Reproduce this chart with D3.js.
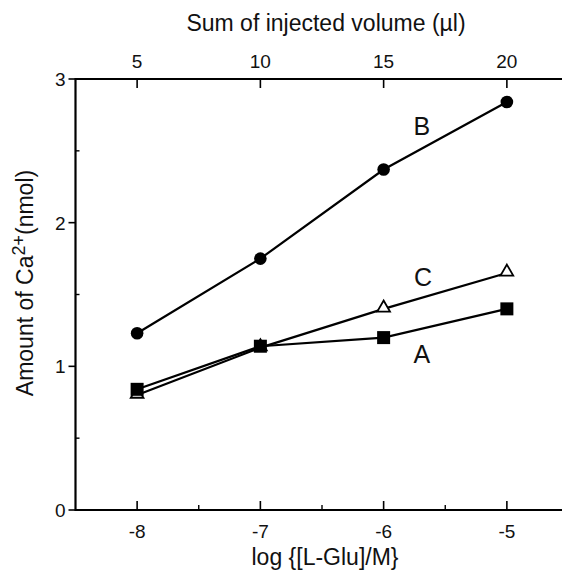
<html>
<head>
<script src="https://cdn.jsdelivr.net/npm/d3@7"></script>
<style>
  body { margin: 0; background: #fff; }
  text { font-family: "Liberation Sans", Arial, sans-serif; fill: #111; }
</style>
</head>
<body>
<div class="chart"></div>
<script>
// data
var logGlu = [-8, -7, -6, -5];
var seriesA = [0.84, 1.14, 1.20, 1.40];
var seriesB = [1.23, 1.75, 2.37, 2.84];
var seriesC = [0.80, 1.13, 1.40, 1.65];
var volTicks = [5, 10, 15, 20];
var xTicks = [-8, -7, -6, -5];
var yTicks = [0, 1, 2, 3];

var W = 562, H = 571;
var x = d3.scaleLinear().domain([-8.5, -4.5]).range([75.5, 568.5]);
var xTop = d3.scaleLinear().domain([2.5, 22.5]).range([75.5, 568.5]);
var y = d3.scaleLinear().domain([0, 3]).range([510, 79]);

var svg = d3.select(".chart").append("svg")
  .attr("width", W).attr("height", H);

// bottom axis
var gb = svg.append("g").attr("transform", "translate(0," + y(0) + ")");
gb.append("line").attr("x1", x(-8.5)).attr("x2", W).attr("stroke", "#000").attr("stroke-width", 2.2);
gb.selectAll(".maj").data(xTicks).enter().append("line")
  .attr("x1", d => x(d)).attr("x2", d => x(d)).attr("y1", 0).attr("y2", -9)
  .attr("stroke", "#000").attr("stroke-width", 1.6);
gb.selectAll(".min").data([-7.5, -6.5, -5.5]).enter().append("line")
  .attr("x1", d => x(d)).attr("x2", d => x(d)).attr("y1", 0).attr("y2", -5)
  .attr("stroke", "#000").attr("stroke-width", 1.4);
gb.selectAll(".lbl").data(xTicks).enter().append("text")
  .attr("x", d => x(d)).attr("y", 28).attr("text-anchor", "middle")
  .attr("font-size", 19).text(d => d);
svg.append("text").attr("x", 325).attr("y", 565).attr("text-anchor", "middle")
  .attr("font-size", 23).text("log {[L-Glu]/M}");

// top axis
var gt = svg.append("g").attr("transform", "translate(0," + y(3) + ")");
gt.append("line").attr("x1", x(-8.5)).attr("x2", W).attr("stroke", "#000").attr("stroke-width", 2.2);
gt.selectAll(".maj").data(volTicks).enter().append("line")
  .attr("x1", d => xTop(d)).attr("x2", d => xTop(d)).attr("y1", 0).attr("y2", 9)
  .attr("stroke", "#000").attr("stroke-width", 1.6);
gt.selectAll(".lbl").data(volTicks).enter().append("text")
  .attr("x", d => xTop(d)).attr("y", -11).attr("text-anchor", "middle")
  .attr("font-size", 19).text(d => d);
svg.append("text").attr("x", 326).attr("y", 31).attr("text-anchor", "middle")
  .attr("font-size", 23).text("Sum of injected volume (\u00b5l)");

// left axis
var gl = svg.append("g").attr("transform", "translate(" + x(-8.5) + ",0)");
gl.append("line").attr("y1", y(0) + 1).attr("y2", y(3) - 1).attr("stroke", "#000").attr("stroke-width", 2.2);
gl.selectAll(".maj").data(yTicks).enter().append("line")
  .attr("y1", d => y(d)).attr("y2", d => y(d)).attr("x1", 0).attr("x2", -7)
  .attr("stroke", "#000").attr("stroke-width", 1.6);
gl.selectAll(".min").data([0.5, 1.5, 2.5]).enter().append("line")
  .attr("y1", d => y(d)).attr("y2", d => y(d)).attr("x1", 0).attr("x2", 4)
  .attr("stroke", "#000").attr("stroke-width", 1.4);
gl.selectAll(".lbl").data(yTicks).enter().append("text")
  .attr("x", -10).attr("y", d => y(d) + 7).attr("text-anchor", "end")
  .attr("font-size", 19).text(d => d);

var yt = svg.append("text").attr("transform", "translate(33,283) rotate(-90)")
  .attr("text-anchor", "middle").attr("font-size", 23);
yt.append("tspan").text("Amount of Ca");
yt.append("tspan").attr("dy", -8).attr("font-size", 18).text("2+");
yt.append("tspan").attr("dy", 8).text("(nmol)");

// lines
var line = d3.line().x((d, i) => x(logGlu[i])).y(d => y(d));
[seriesA, seriesC, seriesB].forEach(function (s) {
  svg.append("path").datum(s).attr("d", line)
    .attr("fill", "none").attr("stroke", "#000").attr("stroke-width", 2.2);
});

// markers
svg.selectAll(".tri").data(seriesC).enter().append("path")
  .attr("d", d3.symbol().type(d3.symbolTriangle).size(70))
  .attr("transform", (d, i) => "translate(" + x(logGlu[i]) + "," + (y(d) - 1) + ")")
  .attr("fill", "#fff").attr("stroke", "#000").attr("stroke-width", 1.8);
svg.selectAll(".sq").data(seriesA).enter().append("rect")
  .attr("x", (d, i) => x(logGlu[i]) - 6.5).attr("y", d => y(d) - 6.5)
  .attr("width", 13).attr("height", 13).attr("fill", "#000");
svg.selectAll(".dot").data(seriesB).enter().append("circle")
  .attr("cx", (d, i) => x(logGlu[i])).attr("cy", d => y(d)).attr("r", 6.3).attr("fill", "#000");

// series labels
var labels = [["B", -5.69, 2.61], ["C", -5.68, 1.56], ["A", -5.69, 1.02]];
svg.selectAll(".slbl").data(labels).enter().append("text")
  .attr("x", d => x(d[1])).attr("y", d => y(d[2]))
  .attr("text-anchor", "middle").attr("font-size", 25).text(d => d[0]);
</script>
</body>
</html>
